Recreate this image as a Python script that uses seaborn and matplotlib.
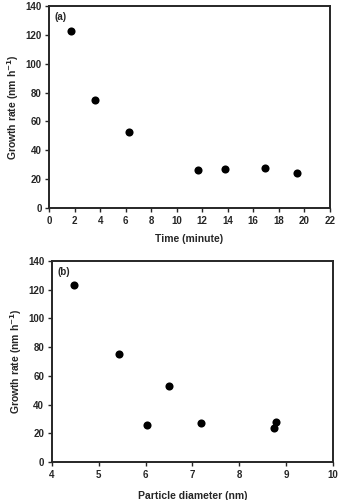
import matplotlib
matplotlib.use("Agg")
import matplotlib.pyplot as plt
import seaborn as sns
import pandas as pd

# growth rate vs time and vs particle diameter
time_min = [1.7, 3.6, 6.25, 11.7, 13.8, 16.9, 19.4]
diameter_nm = [4.48, 5.44, 6.5, 6.03, 7.18, 8.79, 8.74]
growth_rate = [123, 75, 53, 26, 27, 28, 24]

df = pd.DataFrame({"time": time_min, "diam": diameter_nm, "gr": growth_rate})

sns.set_style("ticks")
plt.rcParams['font.family'] = ['Liberation Sans', 'DejaVu Sans']
plt.rcParams['font.weight'] = 'bold'
plt.rcParams['mathtext.default'] = 'bf'

fig = plt.figure(figsize=(3.39, 5.0), dpi=100)
ax1 = fig.add_axes([0.145, 0.584, 0.828, 0.404])
ax2 = fig.add_axes([0.153, 0.076, 0.829, 0.402])

sns.scatterplot(data=df, x="time", y="gr", ax=ax1, color="black", s=34, edgecolor="black", linewidth=0)
sns.scatterplot(data=df, x="diam", y="gr", ax=ax2, color="black", s=34, edgecolor="black", linewidth=0)

ylab = r"Growth rate (nm h$^{\mathbf{-1}}$)"
for ax in (ax1, ax2):
    ax.set_ylim(0, 140)
    ax.set_yticks(range(0, 141, 20))
    for s in ax.spines.values():
        s.set_linewidth(1.4)
        s.set_visible(True)
    ax.tick_params(labelsize=7, width=1.0, length=3, direction="out", pad=2.5)
    ax.set_ylabel(ylab, fontsize=7.5, fontweight="bold", labelpad=3)

ax1.set_xlim(0, 22)
ax1.set_xticks(range(0, 23, 2))
ax1.set_xlabel("Time (minute)", fontsize=7.5, fontweight="bold", labelpad=6)
ax1.text(0.02, 0.97, "(a)", transform=ax1.transAxes, fontsize=7, fontweight="bold", va="top")

ax2.set_xlim(4, 10)
ax2.set_xticks(range(4, 11))
ax2.set_xlabel("Particle diameter (nm)", fontsize=7.5, fontweight="bold", labelpad=8)
ax2.text(0.02, 0.97, "(b)", transform=ax2.transAxes, fontsize=7, fontweight="bold", va="top")

for ax in (ax1, ax2):
    for lab in ax.get_xticklabels() + ax.get_yticklabels():
        lab.set_fontweight("bold")

fig.savefig("out.png", dpi=100)
